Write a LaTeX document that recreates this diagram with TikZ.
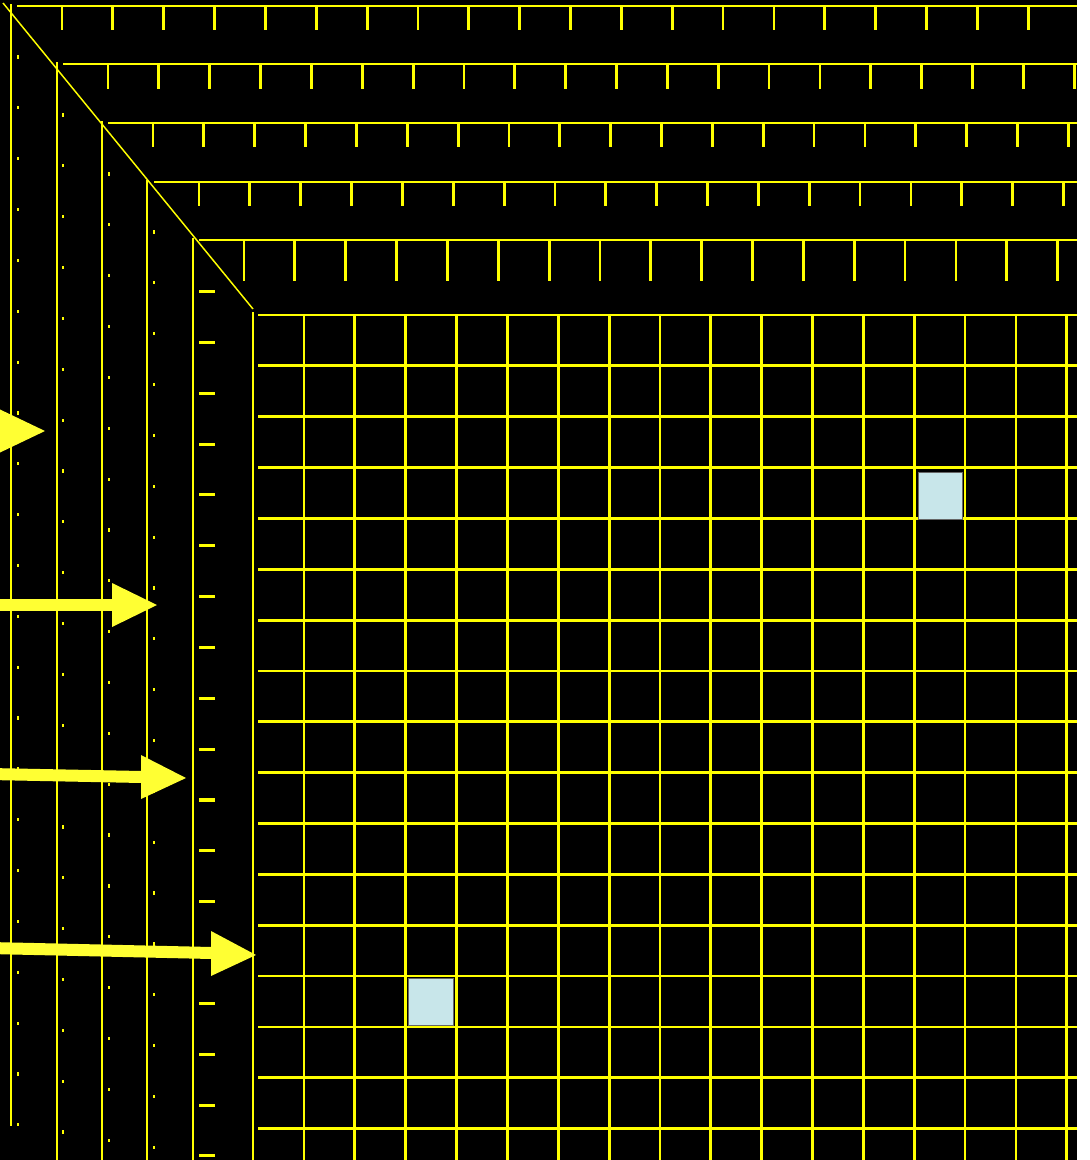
\documentclass[tikz,border=0pt]{standalone}
\definecolor{ylw}{RGB}{255,255,0}
\definecolor{arrowylw}{RGB}{255,255,51}
\definecolor{cellblue}{RGB}{200,230,234}
\begin{document}
\begin{tikzpicture}[x=0.75pt,y=-0.75pt,
  gridline/.style={draw=ylw,line width=2.1pt},
  shortmark/.style={draw=ylw,line width=2.3pt},
  dotmark/.style={fill=ylw},
  shaft/.style={draw=arrowylw,line width=9pt},
  head/.style={fill=arrowylw},
  cell/.style={fill=cellblue,draw=black!60,line width=0.5pt}]
\useasboundingbox (0,0) rectangle (1089,1160);
\clip (0,0) rectangle (1089,1160);
\fill[white] (0,0) rectangle (1089,1160);
\fill[black] (0,0) rectangle (1077,1160);
% stacked layers
\foreach \vx/\hy/\hs/\tx/\te/\vend/\nt in {11/6/17/62/30/1126/19, 57/64/63/108/89/1160/19, 102/123/108/153/147/1160/18, 147/182/154/199/206/1160/17, 193/240/199/244/281/1160/16}
{
  \draw[gridline] (\vx,{\hy-2}) -- (\vx,\vend);
  \draw[gridline] (\hs,\hy) -- (1077,\hy);
  \foreach \k in {0,...,\nt}
    \draw[gridline] ({\tx+50.85*\k},\hy) -- ({\tx+50.85*\k},\te);
}
% dots
\foreach \dx/\dy/\nd in {18/57/21, 63/115/20, 109/174/19, 154/232/18}
{
  \foreach \k in {0,...,\nd}
    \fill[dotmark] ({\dx-1.2},{\dy+50.85*\k-1.6}) rectangle ({\dx+1.2},{\dy+50.85*\k+1.6});
}
% layer 4 left marks
\foreach \k in {0,...,17}
  \draw[shortmark] (199,{291.5+50.85*\k}) -- (215,{291.5+50.85*\k});
% main grid
\draw[gridline] (253,312) -- (253,1160);
\foreach \k in {0,...,16}
  \draw[gridline] (258,{315+50.85*\k}) -- (1077,{315+50.85*\k});
\foreach \k in {0,...,15}
  \draw[gridline] ({304+50.85*\k},315) -- ({304+50.85*\k},1160);
% diagonal
\draw[ylw,line width=1.1pt] (3,3) -- (253,309);
% highlighted cells
\draw[cell] (918,472) rectangle (962,519);
\draw[cell] (408,978) rectangle (453,1025);
% arrows
\coordinate (a1s) at (-60,431);
\coordinate (a1t) at (45,431);
\draw[shaft] (a1s) -- (-1,431);
\fill[head] (-1,409) -- (a1t) -- (-1,453) -- cycle;
\coordinate (a2s) at (-10,605);
\coordinate (a2t) at (157,605);
\draw[shaft] (a2s) -- (113,605);
\fill[head] (112,583) -- (a2t) -- (112,627) -- cycle;
\coordinate (a3s) at (-10,774);
\coordinate (a3t) at (186,778);
\draw[shaft] (a3s) -- (142,777);
\fill[head] (141,755) -- (a3t) -- (141,799) -- cycle;
\coordinate (a4s) at (-10,948);
\coordinate (a4t) at (256,955);
\draw[shaft] (a4s) -- (212,953);
\fill[head] (211,931) -- (a4t) -- (211,976) -- cycle;
\end{tikzpicture}
\end{document}
